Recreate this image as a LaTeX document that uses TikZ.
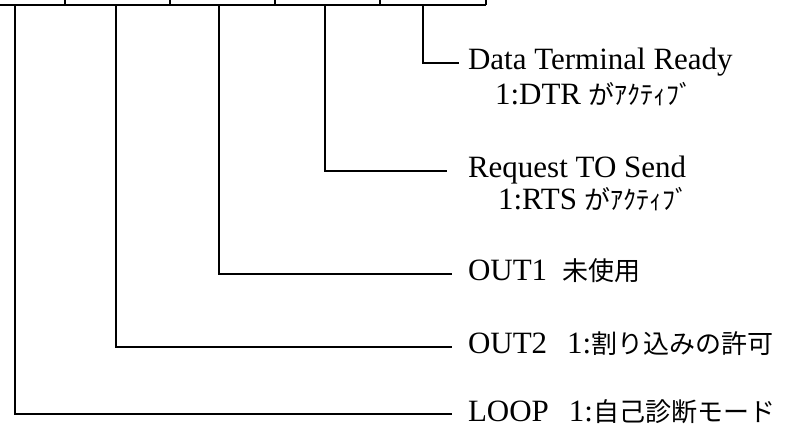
\documentclass[tikz,border=0pt]{standalone}
\usepackage{fontspec}
\setmainfont{Liberation Serif}
\newfontfamily\jpfont{Noto Sans CJK JP}
\newcommand{\jp}[1]{{\jpfont\fontsize{26}{30}\selectfont #1}}
\usepackage{tikz}

\begin{document}
\begin{tikzpicture}[x=1pt,y=-1pt,line width=2pt,
  bitlabel/.style={anchor=west,inner sep=0pt,text height=18pt,text depth=4pt,
    font=\fontsize{31}{35}\selectfont}]
\useasboundingbox (0,0) rectangle (803,427);

% register bits
\draw (0,5) -- (486,5);
\foreach \x in {65,170,275,380,486} \draw (\x,0) -- (\x,5);
\coordinate (loop) at (15,5);
\coordinate (outtwo) at (116,5);
\coordinate (outone) at (219,5);
\coordinate (rts) at (325,5);
\coordinate (dtr) at (423,5);

\node[bitlabel] (dtrname) at (467,63) {Data Terminal Ready};
\node[bitlabel] (dtrval) at (494,98) {1:DTR \jp{がｱｸﾃｨﾌﾞ}};
\node[bitlabel] (rtsname) at (467,171) {Request TO Send};
\node[bitlabel] (rtsval) at (497,203) {1:RTS \jp{がｱｸﾃｨﾌﾞ}};
\node[bitlabel] (outonename) at (467,274) {OUT1\ \ \jp{未使用}};
\node[bitlabel] (outtwoname) at (467,347) {OUT2\hspace{20pt}1:\jp{割り込みの許可}};
\node[bitlabel] (loopname) at (467,414) {LOOP\hspace{20pt}1:\jp{自己診断モード}};

\draw (dtr) |- ([xshift=-8pt]dtrname.west);
\draw (rts) |- ([xshift=-20pt]rtsname.west);
\draw (outone) |- ([xshift=-15pt]outonename.west);
\draw (outtwo) |- ([xshift=-15pt]outtwoname.west);
\draw (loop) |- ([xshift=-15pt]loopname.west);
\end{tikzpicture}
\end{document}
